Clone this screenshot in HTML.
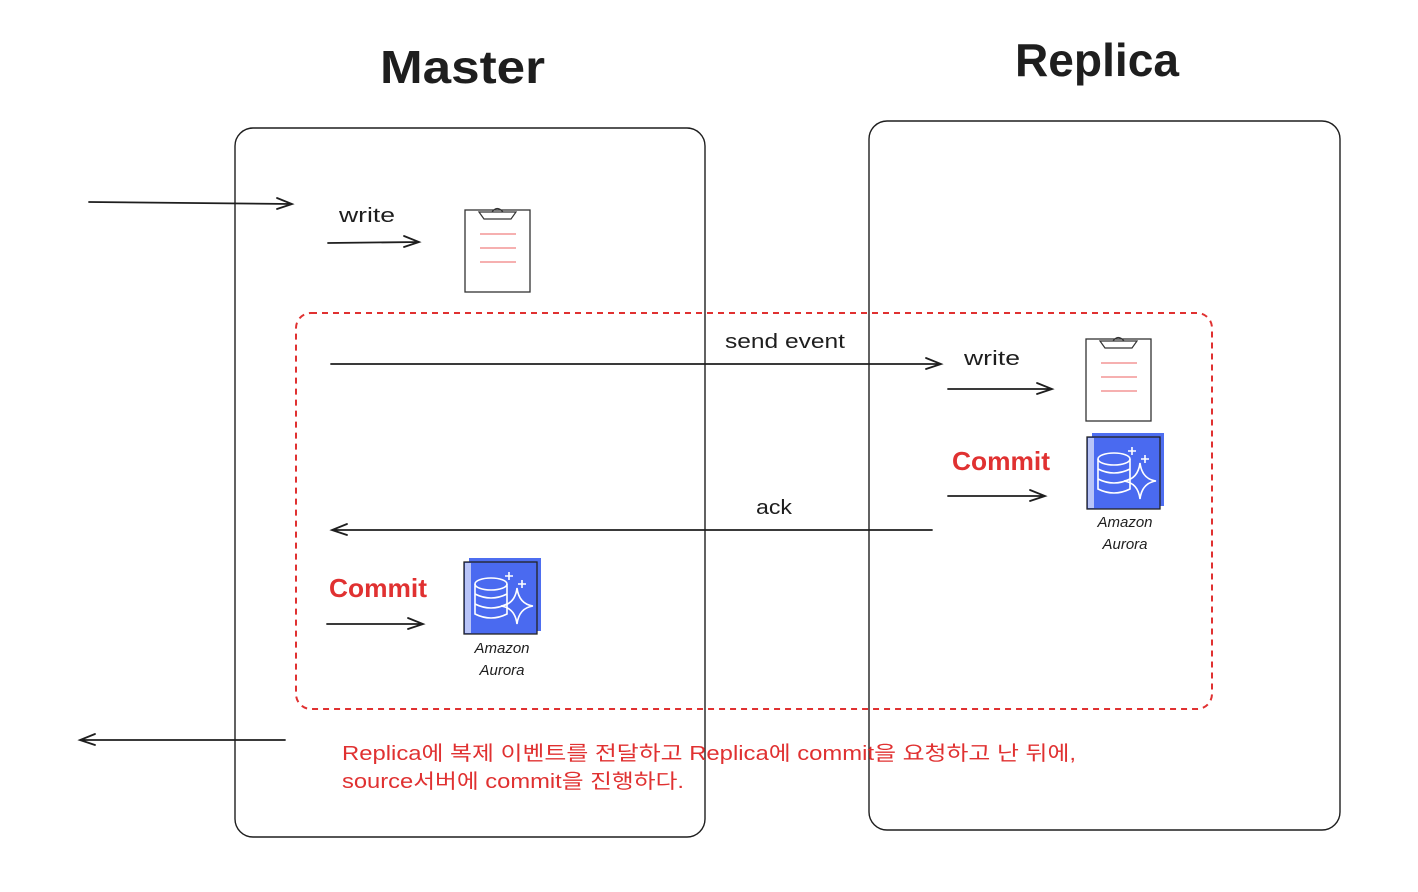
<!DOCTYPE html>
<html><head><meta charset="utf-8"><style>
html,body{margin:0;padding:0;background:#fff;}
svg{display:block;}
text{font-family:"Liberation Sans","Noto Sans CJK KR",sans-serif;}
</style></head><body>
<svg width="1418" height="892" viewBox="0 0 1418 892" xmlns="http://www.w3.org/2000/svg">
<defs>
<g id="clip">
<rect x="0" y="0" width="65" height="82" fill="#fff" stroke="#333" stroke-width="1.3"/>
<path d="M14,2 L19,9 L46,9 L51,2 Z" fill="#fff" stroke="#333" stroke-width="1.2"/>
<path d="M27,2 Q32,-5 38,2" fill="none" stroke="#333" stroke-width="1.2"/>
<line x1="15" y1="24" x2="51" y2="24" stroke="#f08080" stroke-width="1.2"/>
<line x1="15" y1="38" x2="51" y2="38" stroke="#f08080" stroke-width="1.2"/>
<line x1="15" y1="52" x2="51" y2="52" stroke="#f08080" stroke-width="1.2"/>
</g>
<g id="aur">
<rect x="5" y="-2" width="72" height="73" fill="#4e6ef0"/>
<rect x="0" y="2" width="73" height="72" fill="#4a6af0" stroke="#222" stroke-width="1.3"/>
<rect x="1" y="3" width="6" height="70" fill="#b8c4f8"/>
<g fill="none" stroke="#fff" stroke-width="1.6">
<ellipse cx="27" cy="24" rx="16" ry="6"/>
<path d="M11,24 V54 Q27,62 43,54 V24"/>
<path d="M11,34 Q27,42 43,34"/><path d="M11,44 Q27,52 43,44"/>
<path d="M53,28 Q55,44 69,46 Q55,48 53,64 Q51,48 37,46 Q51,44 53,28 Z"/>
<path d="M45,12 v8 M41,16 h8 M58,20 v8 M54,24 h8"/>
</g>
</g>
</defs>
<g fill="none" stroke="#1e1e1e" stroke-width="1.4">
<rect x="235" y="128" width="470" height="709" rx="18"/>
<rect x="869" y="121" width="471" height="709" rx="18"/>
</g>
<rect x="296" y="313" width="916" height="396" rx="15" fill="none" stroke="#e03131" stroke-width="2" stroke-dasharray="6,5"/>
<text x="380" y="83" font-size="46" font-weight="bold" fill="#1e1e1e" textLength="165" lengthAdjust="spacingAndGlyphs">Master</text>
<text x="1015" y="76" font-size="46" font-weight="bold" fill="#1e1e1e" textLength="164" lengthAdjust="spacingAndGlyphs">Replica</text>
<g stroke="#1e1e1e" stroke-width="1.8" fill="none" stroke-linecap="round">
<path d="M89,202 L292,204 M277,198 L292,204 L277,209"/>
<path d="M328,243 L419,242 M404,236 L419,242 L404,247"/>
<path d="M331,364 L941,364 M926,358 L941,364 L926,369"/>
<path d="M948,389 L1052,389 M1037,383 L1052,389 L1037,394"/>
<path d="M948,496 L1045,496 M1030,490 L1045,496 L1030,501"/>
<path d="M932,530 L332,530 M347,524 L332,530 L347,535"/>
<path d="M327,624 L423,624 M408,618 L423,624 L408,629"/>
<path d="M285,740 L80,740 M95,734 L80,740 L95,745"/>
</g>
<g font-size="20" fill="#1e1e1e">
<text x="339" y="222" textLength="56" lengthAdjust="spacingAndGlyphs">write</text>
<text x="725" y="348" textLength="120" lengthAdjust="spacingAndGlyphs">send event</text>
<text x="964" y="365" textLength="56" lengthAdjust="spacingAndGlyphs">write</text>
<text x="756" y="514" textLength="36" lengthAdjust="spacingAndGlyphs">ack</text>
</g>
<g font-size="26" font-weight="bold" fill="#e03131">
<text x="952" y="470" textLength="98" lengthAdjust="spacingAndGlyphs">Commit</text>
<text x="329" y="597" textLength="98" lengthAdjust="spacingAndGlyphs">Commit</text>
</g>
<use href="#clip" x="465" y="210"/>
<use href="#clip" x="1086" y="339"/>
<use href="#aur" x="464" y="560"/>
<use href="#aur" x="1087" y="435"/>
<g font-size="15" font-style="italic" fill="#1e1e1e" text-anchor="middle">
<text x="502" y="653">Amazon</text><text x="502" y="675">Aurora</text>
<text x="1125" y="527">Amazon</text><text x="1125" y="549">Aurora</text>
</g>
<g font-size="20" fill="#e03131">
<text x="342" y="760" textLength="734" lengthAdjust="spacingAndGlyphs">Replica에 복제 이벤트를 전달하고 Replica에 commit을 요청하고 난 뒤에,</text>
<text x="342" y="788" textLength="342" lengthAdjust="spacingAndGlyphs">source서버에 commit을 진행하다.</text>
</g>
</svg>
</body></html>
